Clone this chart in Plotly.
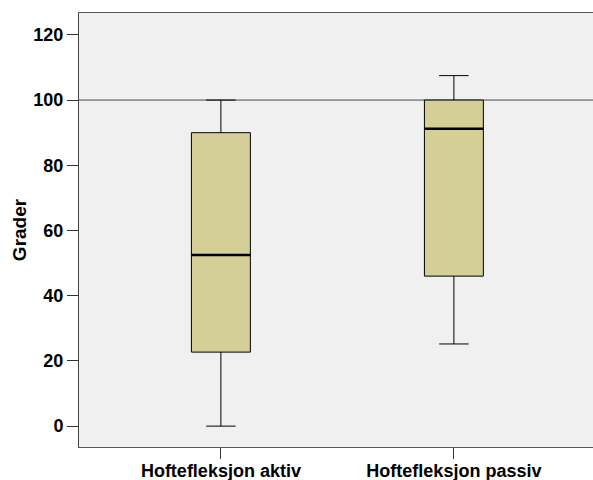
import plotly.graph_objects as go

categories = ["Hoftefleksjon aktiv", "Hoftefleksjon passiv"]
lower_whisker = [0.0, 25.2]
q1_values = [22.7, 46.0]
median_values = [52.5, 91.2]
q3_values = [90.0, 100.0]
upper_whisker = [100.0, 107.5]
reference_value = 100
y_tick_values = [0, 20, 40, 60, 80, 100, 120]

box_width = 0.253
font_family = "Liberation Sans, Arial, sans-serif"

fig = go.Figure()
fig.add_trace(go.Box(
    x=categories,
    q1=q1_values,
    median=median_values,
    q3=q3_values,
    lowerfence=lower_whisker,
    upperfence=upper_whisker,
    width=box_width,
    whiskerwidth=0.5,
    fillcolor="#D3CF97",
    line=dict(color="#000000", width=1),
    boxpoints=False,
    hoverinfo="skip",
    showlegend=False,
))

# thicker median lines like the SPSS style
for i, m in enumerate(median_values):
    fig.add_shape(type="line", xref="x", yref="y",
                  x0=i - box_width / 2, x1=i + box_width / 2, y0=m, y1=m,
                  line=dict(color="#000000", width=2.5), layer="above")

fig.add_hline(y=reference_value, line=dict(color="#4A4A4A", width=1), layer="below")

fig.update_layout(
    width=593, height=480,
    margin=dict(l=79, r=0, t=13, b=33, autoexpand=False),
    paper_bgcolor="#FFFFFF",
    plot_bgcolor="#F0F0F0",
    font=dict(family=font_family, color="#000000"),
    xaxis=dict(
        type="category",
        range=[-0.609, 1.597],
        automargin=False,
        showgrid=False, zeroline=False,
        showline=True, linecolor="#5A5A5A", linewidth=1, mirror=True,
        ticks="outside", ticklen=11, tickcolor="#333333", tickwidth=1,
        ticklabelstandoff=-4,
        tickfont=dict(size=18, family=font_family, weight="bold"),
    ),
    yaxis=dict(
        range=[-6.4, 126.7],
        tickvals=y_tick_values,
        automargin=False,
        showgrid=False, zeroline=False,
        showline=True, linecolor="#444444", linewidth=1,
        ticks="outside", ticklen=11, tickcolor="#333333", tickwidth=1,
        tickfont=dict(size=18, family=font_family, weight="bold"),
        title=dict(text="Grader", standoff=1,
                   font=dict(size=19, family=font_family, weight="bold")),
    ),
)

fig.write_html("out.html",
               config={"displayModeBar": False, "staticPlot": True},
               post_script="document.body.style.margin='0';document.body.style.overflow='hidden';")
